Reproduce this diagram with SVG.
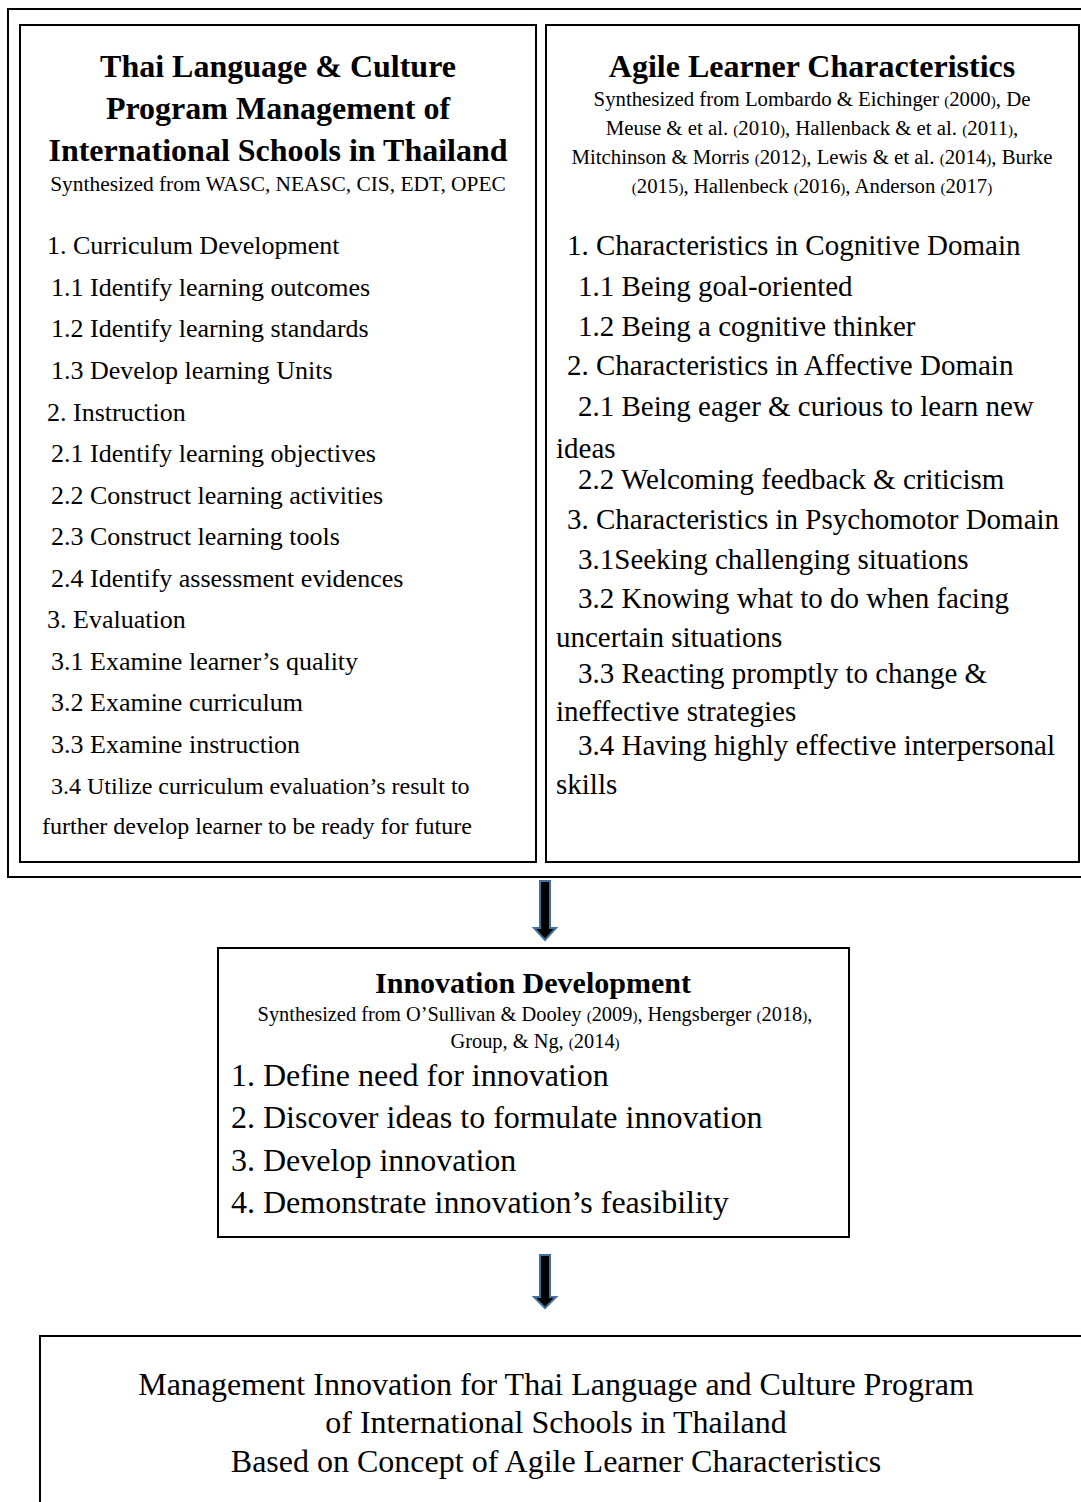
<svg xmlns="http://www.w3.org/2000/svg" width="1081" height="1502" viewBox="0 0 1081 1502">
  <style>
    .frame { fill: none; stroke: #000; stroke-width: 2; }
    .t { font-family: "Liberation Serif", "Times New Roman", serif; fill: #000; }
    .title { font-weight: bold; font-size: 32px; text-anchor: middle; }
    .cite { font-size: 20.8px; text-anchor: middle; }
    .p { font-size: 15px; }
    .li { font-size: 26px; }
    .li2 { font-size: 24px; }
    .ri { font-size: 29px; }
    .ii { font-size: 32px; }
    .res { font-size: 32px; text-anchor: middle; }
    .arrow { fill: #000; stroke: #41719c; stroke-width: 2; stroke-linejoin: miter; }
  </style>

  <rect width="1081" height="1502" fill="#fff"/>

  <!-- outer frame around the two source boxes -->
  <g id="outer-frame">
    <rect class="frame" x="8" y="9" width="1090" height="868"/>
  </g>

  <!-- left box: program management -->
  <g id="program-management">
    <rect class="frame" x="20" y="25" width="516" height="837"/>
    <text class="t title" x="278" y="77">Thai Language &amp; Culture</text>
    <text class="t title" x="278" y="119">Program Management of</text>
    <text class="t title" x="278" y="161">International Schools in Thailand</text>
    <text class="t cite" x="278" y="191" style="font-size:21.4px">Synthesized from WASC, NEASC, CIS, EDT, OPEC</text>
    <text class="t li" x="47" y="254">1. Curriculum Development</text>
    <text class="t li" x="51" y="296">1.1 Identify learning outcomes</text>
    <text class="t li" x="51" y="337">1.2 Identify learning standards</text>
    <text class="t li" x="51" y="379">1.3 Develop learning Units</text>
    <text class="t li" x="47" y="421">2. Instruction</text>
    <text class="t li" x="51" y="462">2.1 Identify learning objectives</text>
    <text class="t li" x="51" y="504">2.2 Construct learning activities</text>
    <text class="t li" x="51" y="545">2.3 Construct learning tools</text>
    <text class="t li" x="51" y="587">2.4 Identify assessment evidences</text>
    <text class="t li" x="47" y="628">3. Evaluation</text>
    <text class="t li" x="51" y="670">3.1 Examine learner’s quality</text>
    <text class="t li" x="51" y="711">3.2 Examine curriculum</text>
    <text class="t li" x="51" y="753">3.3 Examine instruction</text>
    <text class="t li2" x="51" y="794">3.4 Utilize curriculum evaluation’s result to</text>
    <text class="t li2" x="42" y="834">further develop learner to be ready for future</text>
  </g>

  <!-- right box: agile learner characteristics -->
  <g id="agile-learner">
    <rect class="frame" x="546" y="25" width="533" height="837"/>
    <text class="t title" x="812" y="77">Agile Learner Characteristics</text>
    <text class="t cite" x="812" y="106">Synthesized from Lombardo &amp; Eichinger <tspan class="p">(</tspan>2000<tspan class="p">)</tspan>, De</text>
    <text class="t cite" x="812" y="135">Meuse &amp; et al. <tspan class="p">(</tspan>2010<tspan class="p">)</tspan>, Hallenback &amp; et al. <tspan class="p">(</tspan>2011<tspan class="p">)</tspan>,</text>
    <text class="t cite" x="812" y="164">Mitchinson &amp; Morris <tspan class="p">(</tspan>2012<tspan class="p">)</tspan>, Lewis &amp; et al. <tspan class="p">(</tspan>2014<tspan class="p">)</tspan>, Burke</text>
    <text class="t cite" x="812" y="193"><tspan class="p">(</tspan>2015<tspan class="p">)</tspan>, Hallenbeck <tspan class="p">(</tspan>2016<tspan class="p">)</tspan>, Anderson <tspan class="p">(</tspan>2017<tspan class="p">)</tspan></text>
    <text class="t ri" x="567" y="255">1. Characteristics in Cognitive Domain</text>
    <text class="t ri" x="578" y="296">1.1 Being goal-oriented</text>
    <text class="t ri" x="578" y="336">1.2 Being a cognitive thinker</text>
    <text class="t ri" x="567" y="375">2. Characteristics in Affective Domain</text>
    <text class="t ri" x="578" y="416">2.1 Being eager &amp; curious to learn new</text>
    <text class="t ri" x="556" y="458">ideas</text>
    <text class="t ri" x="578" y="489">2.2 Welcoming feedback &amp; criticism</text>
    <text class="t ri" x="567" y="529">3. Characteristics in Psychomotor Domain</text>
    <text class="t ri" x="578" y="569">3.1Seeking challenging situations</text>
    <text class="t ri" x="578" y="608">3.2 Knowing what to do when facing</text>
    <text class="t ri" x="556" y="647">uncertain situations</text>
    <text class="t ri" x="578" y="683">3.3 Reacting promptly to change &amp;</text>
    <text class="t ri" x="556" y="721">ineffective strategies</text>
    <text class="t ri" x="578" y="755">3.4 Having highly effective interpersonal</text>
    <text class="t ri" x="556" y="794">skills</text>
  </g>

  <!-- innovation development box -->
  <g id="innovation-development">
    <rect class="frame" x="218" y="948" width="631" height="289"/>
    <text class="t title" x="533" y="993" style="font-size:30px">Innovation Development</text>
    <text class="t cite" x="535" y="1021" style="font-size:20.4px">Synthesized from O’Sullivan &amp; Dooley <tspan class="p">(</tspan>2009<tspan class="p">)</tspan>, Hengsberger <tspan class="p">(</tspan>2018<tspan class="p">)</tspan>,</text>
    <text class="t cite" x="535" y="1048" style="font-size:20.4px">Group, &amp; Ng, <tspan class="p">(</tspan>2014<tspan class="p">)</tspan></text>
    <text class="t ii" x="231" y="1086">1. Define need for innovation</text>
    <text class="t ii" x="231" y="1128">2. Discover ideas to formulate innovation</text>
    <text class="t ii" x="231" y="1171">3. Develop innovation</text>
    <text class="t ii" x="231" y="1213">4. Demonstrate innovation’s feasibility</text>
  </g>

  <!-- resulting management innovation -->
  <g id="management-innovation">
    <rect class="frame" x="40" y="1336" width="1060" height="200"/>
    <text class="t res" x="556" y="1395">Management Innovation for Thai Language and Culture Program</text>
    <text class="t res" x="556" y="1433">of International Schools in Thailand</text>
    <text class="t res" x="556" y="1472">Based on Concept of Agile Learner Characteristics</text>
  </g>

  <!-- flow arrows -->
  <g id="connectors">
    <polygon class="arrow" points="540,881 550,881 550,928 556,928 545,940 534,928 540,928"/>
    <polygon class="arrow" points="540,1255 550,1255 550,1297 556,1297 545,1308 534,1297 540,1297"/>
  </g>
</svg>
